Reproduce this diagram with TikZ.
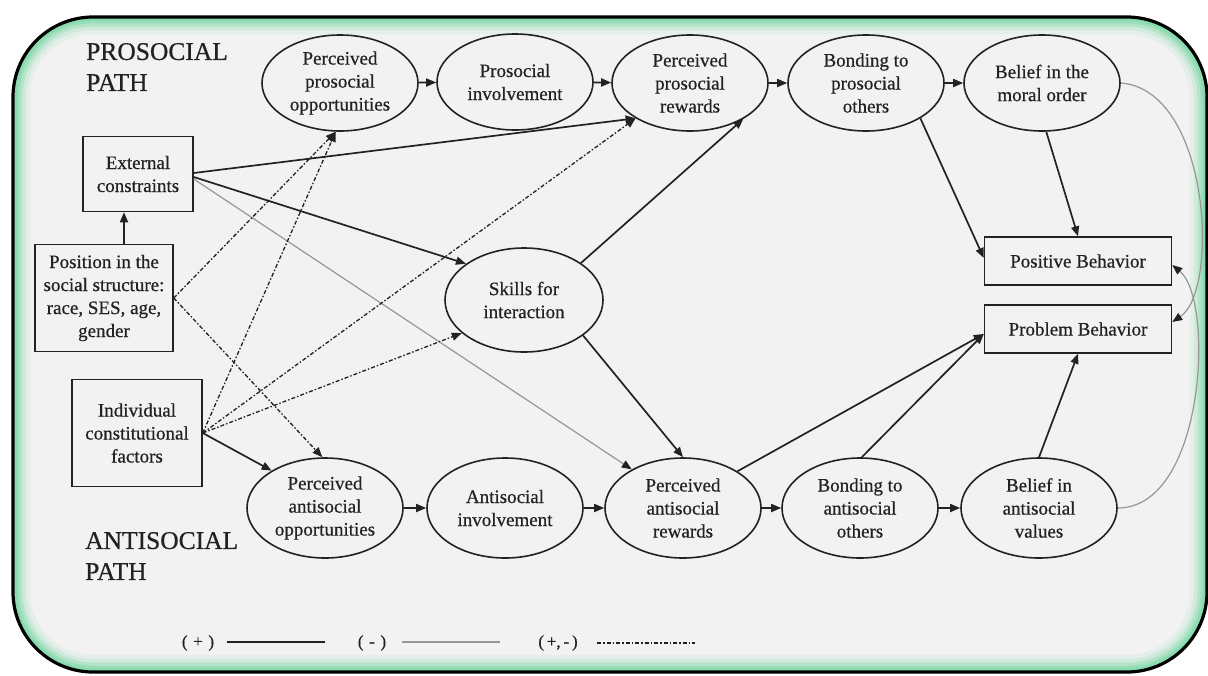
\documentclass[tikz,border=0pt]{standalone}
\usepackage{fontspec}
\setmainfont{Liberation Serif}[UprightFeatures={FakeBold=0.6}]
\usetikzlibrary{shapes.geometric,arrows.meta,calc}
\definecolor{ink}{RGB}{34,34,34}
\definecolor{greyline}{RGB}{150,150,150}
\definecolor{mint}{RGB}{130,218,170}
\definecolor{paper}{RGB}{242,242,242}
\begin{document}
\begin{tikzpicture}[x=1pt,y=-1pt,
  txt/.style={text=ink,font=\fontsize{19}{23}\selectfont,align=center},
  oval/.style={txt,ellipse,draw=ink,line width=1.6pt,minimum width=156pt,minimum height=96pt,inner sep=0pt},
  lowoval/.style={oval,minimum height=100pt},
  boxn/.style={txt,rectangle,draw=ink,line width=1.5pt,inner sep=0pt},
  tiparrow/.style={-{Triangle[length=10pt,width=8pt,color=ink]}},
  poslink/.style={draw=ink,line width=1.7pt,tiparrow},
  neglink/.style={draw=greyline,line width=1.2pt,tiparrow},
  mixlink/.style={draw=ink,line width=1.3pt,dash pattern=on 4pt off 2pt on 1.5pt off 2pt,tiparrow},
  pathlabel/.style={text=ink,font=\fontsize{25.5}{31}\selectfont,align=left,inner sep=0pt,anchor=west},
  legendtext/.style={text=ink,font=\fontsize{17}{19}\selectfont,inner sep=0pt}
]
\useasboundingbox (0,0) rectangle (1208,675);
% frame
\fill[white] (0,0) rectangle (1208,675);
\begin{scope}
  \path[clip,rounded corners=80pt] (13,17) rectangle (1207,672);
  \fill[paper] (0,0) rectangle (1208,675);
  \foreach \w/\o in {34/0.12,26/0.2,19/0.32,13/0.5,8/0.75}
    \draw[mint,opacity=\o,line width=\w pt,rounded corners=80pt] (13,17) rectangle (1207,672);
\end{scope}
\draw[black,line width=3.2pt,rounded corners=80pt] (13,17) rectangle (1207,672);

% path labels
\node[pathlabel] (lpro) at (86,67) {PROSOCIAL\\PATH};
\node[pathlabel] (lanti) at (85,556) {ANTISOCIAL\\PATH};

% top row
\node[oval] (ppo) at (340,83) {Perceived\\prosocial\\opportunities};
\node[oval] (pi)  at (515,82) {Prosocial\\involvement};
\node[oval] (ppr) at (690,83) {Perceived\\prosocial\\rewards};
\node[oval] (bpo) at (866,83) {Bonding to\\prosocial\\others};
\node[oval] (bmo) at (1042,83) {Belief in the\\moral order};
% middle
\node[oval,minimum width=158pt,minimum height=104pt] (ski) at (524,300) {Skills for\\interaction};
% bottom row
\node[lowoval] (pao) at (325,508) {Perceived\\antisocial\\opportunities};
\node[lowoval] (ai)  at (505,508) {Antisocial\\involvement};
\node[lowoval] (par) at (683,508) {Perceived\\antisocial\\rewards};
\node[lowoval] (bao) at (860,508) {Bonding to\\antisocial\\others};
\node[lowoval] (bav) at (1039,508) {Belief in\\antisocial\\values};
% boxes
\node[boxn,minimum width=110pt,minimum height=75pt] (ext) at (138,174) {External\\constraints};
\node[boxn,minimum width=138pt,minimum height=107pt] (posi) at (104,298) {Position in the\\social structure:\\race, SES, age,\\gender};
\node[boxn,minimum width=130pt,minimum height=107pt] (ind) at (137,433) {Individual\\constitutional\\factors};
\node[boxn,minimum width=187pt,minimum height=48pt] (posb) at (1078,261) {Positive Behavior};
\node[boxn,minimum width=187pt,minimum height=48pt] (prb) at (1078,329) {Problem Behavior};

% chains
\draw[poslink] (ppo) -- (pi);
\draw[poslink] (pi) -- (ppr);
\draw[poslink] (ppr) -- (bpo);
\draw[poslink] (bpo) -- (bmo);
\draw[poslink] (pao) -- (ai);
\draw[poslink] (ai) -- (par);
\draw[poslink] (par) -- (bao);
\draw[poslink] (bao) -- (bav);

% positive links
\coordinate (pe) at ($(ext.south)+(-14,0)$);
\draw[poslink] (posi.north -| pe) -- (pe);
\draw[poslink] ([yshift=1pt]ext.east) -- (ppr.213);
\draw[poslink] ([yshift=-3pt]ext.east) -- (ski.148);
\draw[poslink] (ski.33) -- (ppr.326);
\draw[poslink] (ski.329) -- (par.north);
\draw[poslink] (ind.east) -- (pao.145);
\draw[poslink] (bpo.327) -- ([yshift=3pt]posb.west);
\draw[poslink] (bmo.-85) -- (posb.north);
\draw[poslink] (par.34) -- ([yshift=-5pt]prb.west);
\draw[poslink] (bao.88) -- ([yshift=-5pt]prb.west);
\draw[poslink] (bav.north) -- (prb.south);

% negative links
\draw[neglink] ([yshift=-5pt]ext.east) -- (par.143);
\draw[neglink] (bmo.east) .. controls (1210,90) and (1220,290) .. ([yshift=7pt]prb.east);
\draw[neglink] (bav.east) .. controls (1205,508) and (1215,300) .. ([yshift=-4pt]posb.east);

% mixed links
\draw[mixlink] (posi.east) -- (ppo.265);
\draw[mixlink] (ind.east) -- (ppo.265);
\draw[mixlink] (posi.east) -- (pao.93);
\draw[mixlink] (ind.east) -- (ski.208);
\draw[mixlink] (ind.east) -- (ppr.213);

% legend
\node[legendtext] (lg1) at (198,643) {(\,\,+\,\,)};
\draw[ink,line width=1.9pt] (227,642) -- (325,642);
\node[legendtext] (lg2) at (372,643) {(\,\,-\,\,)};
\draw[greyline,line width=1.7pt] (402,642) -- (500,642);
\node[legendtext] (lg3) at (558,643) {(\,+,\,-\,)};
\draw[ink,line width=1.2pt,dash pattern=on 4pt off 2pt on 1.5pt off 2pt] (597,643) -- (695,643);
\end{tikzpicture}
\end{document}
